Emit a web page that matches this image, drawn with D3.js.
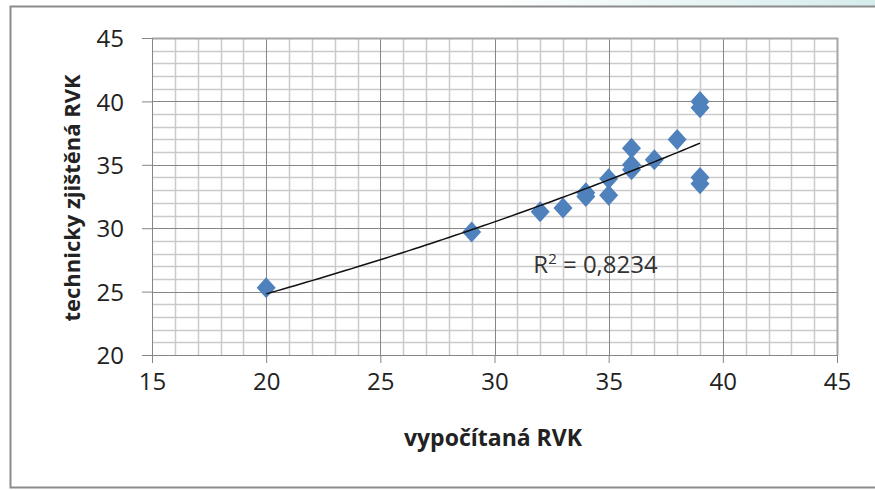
<!DOCTYPE html>
<html>
<head>
<meta charset="utf-8">
<script src="https://cdn.jsdelivr.net/npm/d3@7"></script>
<style>
  html, body { margin: 0; padding: 0; background: #fff; }
  svg { display: block; font-family: "Open Sans", "Noto Sans", sans-serif; }
</style>
</head>
<body>
<svg id="chart" width="875" height="490"></svg>
<script>
var xValues = [20, 29, 32, 33, 34, 34, 35, 35, 36, 36, 36, 37, 38, 39, 39, 39, 39];
var yValues = [25.3, 29.7, 31.3, 31.6, 32.5, 32.8, 32.6, 33.9, 34.6, 35.0, 36.3, 35.4, 37.0, 40.0, 39.5, 34.0, 33.5];
var xTicks = [15, 20, 25, 30, 35, 40, 45];
var yTicks = [20, 25, 30, 35, 40, 45];
var xTitle = "vypočítaná RVK";
var yTitle = "technicky zjištěná RVK";
var r2Label = "0,8234";

var svg = d3.select("#chart"),
  margin = {top: 38, right: 38, bottom: 135, left: 152},
  width = 875 - margin.left - margin.right,
  height = 490 - margin.top - margin.bottom,
  gridMinor = "#cacaca",
  gridMajor = "#868686",
  markerColor = "#4f81bd";

var defs = svg.append("defs");
var grad = defs.append("linearGradient").attr("id", "topGrad");
grad.append("stop").attr("offset", "0.55").attr("stop-color", "#ffffff");
grad.append("stop").attr("offset", "1").attr("stop-color", "#d6ecec");

// outer frame of the embedded chart
svg.append("rect").attr("x", 0).attr("y", 0).attr("width", 875).attr("height", 6)
  .attr("fill", "url(#topGrad)");
svg.append("path")
  .attr("d", "M875,6.5H10.5V487.5H875")
  .attr("fill", "none")
  .attr("stroke", "#8c8c8c")
  .attr("stroke-width", 2);

var x = d3.scaleLinear().domain([15, 45]).range([0, width]),
  y = d3.scaleLinear().domain([20, 45]).range([height, 0]);

var g = svg.append("g").attr("transform", "translate(" + margin.left + "," + margin.top + ")");

// minor grid every unit
g.append("g").selectAll("line")
  .data(d3.range(16, 45).filter(function(v) { return v % 5 !== 0; }))
  .join("line")
  .attr("x1", function(d) { return Math.round(x(d)) + 0.5; })
  .attr("x2", function(d) { return Math.round(x(d)) + 0.5; })
  .attr("y1", 0).attr("y2", height)
  .attr("stroke", gridMinor).attr("stroke-width", 1.5);
g.append("g").selectAll("line")
  .data(d3.range(21, 45).filter(function(v) { return v % 5 !== 0; }))
  .join("line")
  .attr("y1", function(d) { return Math.round(y(d)) + 0.5; })
  .attr("y2", function(d) { return Math.round(y(d)) + 0.5; })
  .attr("x1", 0).attr("x2", width)
  .attr("stroke", gridMinor).attr("stroke-width", 1.5);

// major grid
g.append("g").selectAll("line")
  .data(xTicks.slice(1))
  .join("line")
  .attr("x1", function(d) { return Math.round(x(d)) + 0.5; })
  .attr("x2", function(d) { return Math.round(x(d)) + 0.5; })
  .attr("y1", 0).attr("y2", height)
  .attr("stroke", gridMajor).attr("stroke-width", 1);
g.append("g").selectAll("line")
  .data(yTicks.slice(1))
  .join("line")
  .attr("y1", function(d) { return Math.round(y(d)) + 0.5; })
  .attr("y2", function(d) { return Math.round(y(d)) + 0.5; })
  .attr("x1", 0).attr("x2", width)
  .attr("stroke", gridMajor).attr("stroke-width", 1);

// plot border top/right
g.append("path")
  .attr("d", "M0," + 0.5 + "H" + (width + 0.5) + "V" + height)
  .attr("fill", "none").attr("stroke", "#a6a6a6").attr("stroke-width", 2);

// axes
var xAxis = g.append("g")
  .attr("transform", "translate(0," + height + ")")
  .call(d3.axisBottom(x).tickValues(xTicks).tickSize(8).tickPadding(10));
var yAxis = g.append("g")
  .call(d3.axisLeft(y).tickValues(yTicks).tickSize(10).tickPadding(18));

[xAxis, yAxis].forEach(function(a) {
  a.select(".domain").attr("stroke", gridMajor);
  a.selectAll(".tick line").attr("stroke", gridMajor);
  a.selectAll("text")
    .attr("fill", "#222")
    .style("font-family", "'Open Sans', sans-serif")
    .style("font-size", "24px");
});
yAxis.selectAll("text").attr("dy", "0.36em");

// exponential trend line fitted on the data
var lx = d3.mean(xValues),
  ly = d3.mean(yValues, function(v) { return Math.log(v); }),
  sxy = d3.sum(xValues, function(v, i) { return (v - lx) * (Math.log(yValues[i]) - ly); }),
  sxx = d3.sum(xValues, function(v) { return (v - lx) * (v - lx); }),
  b = sxy / sxx,
  a = Math.exp(ly - b * lx),
  xExt = d3.extent(xValues);

var trend = d3.range(xExt[0], xExt[1] + 0.001, 0.25).map(function(v) { return [v, a * Math.exp(b * v)]; });

var points = xValues.map(function(v, i) { return {x: v, y: yValues[i]}; });

g.append("g").selectAll("path")
  .data(points)
  .join("path")
  .attr("transform", function(d) { return "translate(" + x(d.x) + "," + y(d.y) + ")"; })
  .attr("d", "M0,-10.5L9.5,0L0,10.5L-9.5,0Z")
  .attr("fill", markerColor);

g.append("path")
  .datum(trend)
  .attr("d", d3.line().x(function(d) { return x(d[0]); }).y(function(d) { return y(d[1]); }))
  .attr("fill", "none")
  .attr("stroke", "#111")
  .attr("stroke-width", 1.5);

// R² label
var r2 = g.append("text")
  .attr("x", x(31.7))
  .attr("y", y(26.45))
  .attr("fill", "#333")
  .style("font-size", "24px");
r2.append("tspan").text("R");
r2.append("tspan").attr("font-size", "15px").attr("dy", "-9").text("2");
r2.append("tspan").attr("dy", "9").text(" = " + r2Label);

// titles
svg.append("text")
  .attr("x", 493)
  .attr("y", 446)
  .attr("text-anchor", "middle")
  .attr("font-weight", "bold")
  .attr("fill", "#222")
  .style("font-size", "23px")
  .text(xTitle);

svg.append("text")
  .attr("transform", "translate(80,198) rotate(-90)")
  .attr("text-anchor", "middle")
  .attr("font-weight", "bold")
  .attr("fill", "#222")
  .style("font-size", "22px")
  .text(yTitle);
</script>
</body>
</html>
